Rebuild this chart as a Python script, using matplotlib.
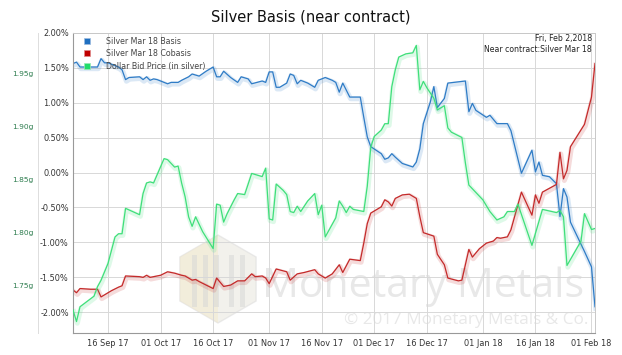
import numpy as np
import matplotlib
matplotlib.use("Agg")
import matplotlib.pyplot as plt
import matplotlib.dates as mdates
import matplotlib.patheffects as pe
from matplotlib.patches import Patch, Polygon, Rectangle

# Datos (dias desde el 6 sep 2017)
start = np.datetime64("2017-09-06")

basis_days = [0, 1, 2, 7, 8, 9, 10, 13, 14, 15, 16, 19, 20, 21, 22, 23, 24, 25, 27, 28,
              30, 31, 33, 34, 36, 38, 40, 41, 42, 43, 45, 47, 48, 50, 51, 54, 55, 56, 57, 58,
              59, 61, 62, 63, 64, 65, 67, 69, 70, 72, 74, 75, 76, 77, 79, 82, 83, 84, 85, 88,
              89, 90, 91, 92, 94, 97, 98, 99, 100, 102, 103, 104, 106, 107, 112, 113, 114, 115, 118, 119,
              121, 124, 125, 128, 131, 132, 133, 134, 136, 138, 139, 140, 141, 142, 144, 146, 148, 149]
basis = [1.56, 1.58, 1.51, 1.51, 1.63, 1.57, 1.57, 1.51, 1.47, 1.33, 1.36, 1.37, 1.33, 1.37, 1.32, 1.34, 1.33, 1.31, 1.27, 1.29,
         1.29, 1.32, 1.37, 1.41, 1.38, 1.45, 1.51, 1.37, 1.37, 1.45, 1.36, 1.29, 1.37, 1.34, 1.27, 1.31, 1.29, 1.44, 1.44, 1.22,
         1.22, 1.28, 1.41, 1.39, 1.27, 1.32, 1.28, 1.22, 1.32, 1.36, 1.32, 1.29, 1.15, 1.28, 1.08, 1.08, 0.79, 0.51, 0.37, 0.27,
         0.19, 0.21, 0.27, 0.22, 0.13, 0.08, 0.15, 0.34, 0.70, 1.01, 1.23, 0.93, 1.06, 1.28, 1.31, 0.87, 0.99, 0.89, 0.79, 0.82,
         0.70, 0.70, 0.60, -0.01, 0.32, 0.01, 0.15, -0.04, -0.06, -0.16, -0.63, -0.23, -0.35, -0.71, -0.92, -1.13, -1.35, -1.92]

cobasis_days = [0, 1, 2, 5, 7, 8, 11, 13, 14, 15, 19, 20, 21, 22, 24, 25, 27, 29, 31, 32,
                34, 35, 36, 38, 40, 41, 43, 45, 47, 49, 51, 52, 54, 55, 56, 58, 61, 62, 64, 66,
                69, 70, 72, 74, 76, 77, 79, 82, 83, 84, 85, 88, 89, 90, 91, 92, 94, 96, 98, 99,
                100, 103, 104, 106, 107, 110, 111, 113, 114, 116, 118, 120, 121, 122, 124, 125, 128, 131, 132, 133,
                134, 138, 139, 140, 141, 142, 146, 148, 149]
cobasis = [-1.68, -1.72, -1.66, -1.67, -1.67, -1.78, -1.69, -1.64, -1.62, -1.48, -1.49, -1.50, -1.47, -1.50, -1.48, -1.47, -1.42, -1.44, -1.47, -1.48,
           -1.54, -1.53, -1.56, -1.61, -1.66, -1.51, -1.63, -1.61, -1.55, -1.55, -1.45, -1.49, -1.48, -1.51, -1.59, -1.38, -1.42, -1.54, -1.45, -1.43,
           -1.39, -1.45, -1.51, -1.45, -1.32, -1.43, -1.24, -1.26, -1.01, -0.73, -0.58, -0.49, -0.39, -0.42, -0.48, -0.37, -0.32, -0.31, -0.37, -0.63,
           -0.86, -0.91, -1.17, -1.32, -1.51, -1.55, -1.54, -1.10, -1.21, -1.09, -1.01, -0.98, -0.93, -0.94, -0.92, -0.82, -0.28, -0.61, -0.32, -0.44,
           -0.28, -0.17, 0.29, -0.09, 0.03, 0.37, 0.69, 1.08, 1.56]

dollar_days = [0, 1, 2, 4, 6, 7, 8, 10, 12, 13, 14, 15, 19, 20, 21, 22, 23, 26, 27, 29,
               30, 31, 32, 33, 34, 35, 37, 40, 41, 42, 43, 44, 46, 47, 49, 51, 54, 55, 56, 57,
               58, 60, 61, 62, 63, 64, 65, 67, 69, 70, 71, 72, 75, 76, 77, 78, 79, 80, 83, 84,
               85, 86, 88, 89, 90, 91, 92, 93, 95, 97, 98, 99, 100, 101, 103, 104, 106, 107, 108, 111,
               112, 113, 117, 119, 121, 123, 124, 126, 127, 131, 134, 138, 139, 140, 141, 145, 146, 148, 149]
dollar = [1.727, 1.716, 1.730, 1.735, 1.740, 1.749, 1.755, 1.771, 1.796, 1.799, 1.799, 1.823, 1.817, 1.837, 1.847, 1.848, 1.847, 1.870, 1.869, 1.862,
          1.863, 1.847, 1.834, 1.815, 1.806, 1.815, 1.801, 1.785, 1.827, 1.826, 1.810, 1.818, 1.831, 1.837, 1.836, 1.856, 1.853, 1.861, 1.813, 1.812,
          1.846, 1.840, 1.836, 1.820, 1.819, 1.825, 1.820, 1.830, 1.837, 1.817, 1.826, 1.796, 1.814, 1.830, 1.825, 1.819, 1.825, 1.822, 1.820, 1.844,
          1.881, 1.891, 1.897, 1.903, 1.903, 1.938, 1.954, 1.966, 1.969, 1.970, 1.977, 1.935, 1.943, 1.937, 1.927, 1.916, 1.920, 1.899, 1.895, 1.890,
          1.866, 1.845, 1.831, 1.820, 1.812, 1.815, 1.820, 1.820, 1.827, 1.788, 1.822, 1.819, 1.821, 1.815, 1.769, 1.792, 1.818, 1.803, 1.804]

tick_dates = ["2017-09-16", "2017-10-01", "2017-10-16", "2017-11-01", "2017-11-16",
              "2017-12-01", "2017-12-16", "2018-01-01", "2018-01-16", "2018-02-01"]
pct_ticks = [2.0, 1.5, 1.0, 0.5, 0.0, -0.5, -1.0, -1.5, -2.0]
gram_ticks = [1.75, 1.80, 1.85, 1.90, 1.95]

c_basis = "#2f7cc6"
c_cobasis = "#c42a2a"
c_dollar = "#3fdf7a"

W, H = 622, 355
fig = plt.figure(figsize=(W / 100, H / 100), dpi=100)
ax = fig.add_axes([73 / W, 1 - 333 / H, 522 / W, 300.5 / H])
ax2 = ax.twinx()

# marca de agua (logo + texto)
def px(x, y):
    return (x / W, 1 - y / H)

cx, cy, r = 218, 279, 44
hexagon = [px(cx + r * np.cos(np.radians(a)), cy + r * np.sin(np.radians(a)))
           for a in [90, 150, 210, 270, 330, 30]]
fig.patches.append(Polygon(hexagon, closed=True, transform=fig.transFigure,
                           facecolor="#e9e6de", edgecolor="#dcdcdc", alpha=0.55, zorder=0.3))
left_half = [px(cx, cy - r), px(cx - r * 0.866, cy - r / 2), px(cx - r * 0.866, cy + r / 2), px(cx, cy + r)]
fig.patches.append(Polygon(left_half, closed=True, transform=fig.transFigure,
                           facecolor="#f4e9c8", edgecolor="none", alpha=0.45, zorder=0.31))
for bx in [192, 203, 214, 229, 240]:
    x0, y0 = px(bx, cy + 28)
    fig.patches.append(Rectangle((x0, y0), 5 / W, 52 / H, transform=fig.transFigure,
                                 facecolor="#d6d6d6", edgecolor="none", alpha=0.5, zorder=0.32))
fig.text(262 / W, 1 - 297 / H, "Monetary Metals", fontsize=29.5, color="#e8e8e8",
         family="Open Sans", zorder=0.4)
fig.text(588 / W, 1 - 320 / H, "© 2017 Monetary Metals & Co.", fontsize=12.3, color="#e8e8e8",
         ha="right", va="center", family="Open Sans", zorder=0.4)

ax.set_zorder(2)
ax.patch.set_visible(False)
ax2.set_zorder(3)
ax2.patch.set_visible(False)

def glow(color):
    return [pe.SimpleLineShadow(offset=(0.6, -1.2), shadow_color=color, alpha=0.17, linewidth=3.6),
            pe.Normal()]

basis_x = start + np.array(basis_days)
cobasis_x = start + np.array(cobasis_days)
dollar_x = start + np.array(dollar_days)

ax.plot(basis_x, basis, color=c_basis, lw=0.9, path_effects=glow(c_basis))
ax.plot(cobasis_x, cobasis, color=c_cobasis, lw=0.9, path_effects=glow(c_cobasis))
ax2.plot(dollar_x, dollar, color=c_dollar, lw=0.9, path_effects=glow(c_dollar))

ax.set_xlim(start, start + np.timedelta64(149, "D"))
ax.set_ylim(-2.296, 2.004)
ax2.set_ylim(1.7052, 1.9892)

ax.set_xticks([np.datetime64(d) for d in tick_dates])
ax.xaxis.set_major_formatter(mdates.DateFormatter("%d %b %y"))
ax.set_yticks(pct_ticks)
ax.set_yticklabels(["%.2f%%" % v for v in pct_ticks])
ax.grid(True, color="#d8d8d8", lw=0.7)
ax.tick_params(axis="both", length=0, labelsize=5.9, colors="#333333", pad=3)
ax.tick_params(axis="x", pad=4)

# eje de gramos a la izquierda, 35 px por fuera
ax2.yaxis.set_ticks_position("left")
ax2.yaxis.set_label_position("left")
ax2.spines["left"].set_position(("outward", 35 * 72 / 100))
ax2.spines["left"].set_color("#dddddd")
ax2.spines["left"].set_linewidth(0.7)
for s in ["right", "top", "bottom"]:
    ax2.spines[s].set_visible(False)
ax2.set_yticks(gram_ticks)
ax2.set_yticklabels(["%.2fg" % v for v in gram_ticks])
ax2.tick_params(axis="y", length=0, labelsize=5.4, colors="#2e7d4f", pad=3)

for s in ["top", "right"]:
    ax.spines[s].set_color("#c8c8c8")
    ax.spines[s].set_linewidth(0.7)
ax.spines["left"].set_color("#999999")
ax.spines["bottom"].set_color("#999999")
ax.spines["left"].set_linewidth(0.8)
ax.spines["bottom"].set_linewidth(0.8)

handles = [Patch(facecolor="#1f6fc0", edgecolor="#9bbbe0", lw=0.5),
           Patch(facecolor="#c00000", edgecolor="#e08a8a", lw=0.5),
           Patch(facecolor="#22dd6a", edgecolor="#9be8b6", lw=0.5)]
labels = ["Silver Mar 18 Basis", "Silver Mar 18 Cobasis", "Dollar Bid Price (in silver)"]
leg = ax2.legend(handles, labels, loc="upper left", bbox_to_anchor=(0.011, 1.005),
                 frameon=False, fontsize=5.7, handlelength=0.75, handleheight=0.75,
                 handletextpad=2.0, labelspacing=0.45, borderpad=0.2)
for t in leg.get_texts():
    t.set_color("#444444")

fig.text(592 / W, 1 - 38.5 / H, "Fri, Feb 2,2018", fontsize=5.6, ha="right", va="center", color="#222222")
fig.text(592 / W, 1 - 49.5 / H, "Near contract:Silver Mar 18", fontsize=5.6, ha="right", va="center", color="#222222")

fig.text(311 / W, 1 - 17 / H, "Silver Basis (near contract)", fontsize=10.5, ha="center", va="center", color="#111111")

fig.savefig("out.png", dpi=100)
